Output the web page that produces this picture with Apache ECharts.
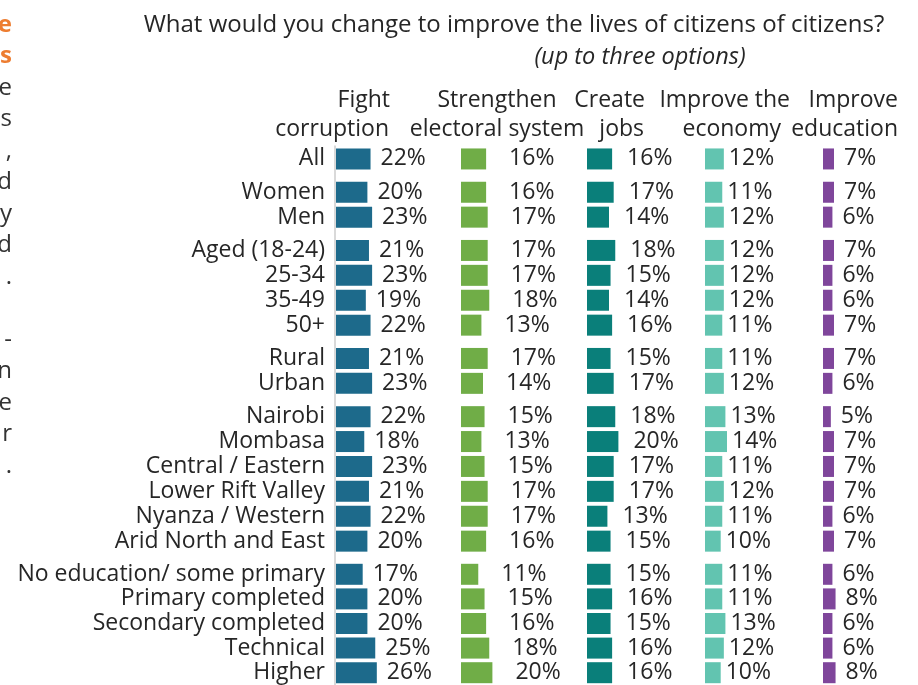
<!DOCTYPE html>
<html>
<head>
<meta charset="utf-8">
<script src="https://cdn.jsdelivr.net/npm/echarts@6/dist/echarts.min.js"></script>
<style>
  html, body { margin: 0; padding: 0; background: #ffffff; }
  #chart { width: 918px; height: 685px; }
</style>
</head>
<body>
<div id="chart"></div>
<script>
// Respondent groups, in display order
const rowGroups = [
  ['All'],
  ['Women', 'Men'],
  ['Aged (18-24)', '25-34', '35-49', '50+'],
  ['Rural', 'Urban'],
  ['Nairobi', 'Mombasa', 'Central / Eastern', 'Lower Rift Valley', 'Nyanza / Western', 'Arid North and East'],
  ['No education/ some primary', 'Primary completed', 'Secondary completed', 'Technical', 'Higher']
];

// Share of respondents (%) choosing each option, one value per row above
const fightCorruption     = [22, 20, 23, 21, 23, 19, 22, 21, 23, 22, 18, 23, 21, 22, 20, 17, 20, 20, 25, 26];
const strengthenElectoral = [16, 16, 17, 17, 17, 18, 13, 17, 14, 15, 13, 15, 17, 17, 16, 11, 15, 16, 18, 20];
const createJobs          = [16, 17, 14, 18, 15, 14, 16, 15, 17, 18, 20, 17, 17, 13, 15, 15, 16, 15, 16, 16];
const improveEconomy      = [12, 11, 12, 12, 12, 12, 11, 11, 12, 13, 14, 11, 12, 11, 10, 11, 11, 13, 12, 10];
const improveEducation    = [ 7,  7,  6,  7,  6,  6,  7,  7,  6,  5,  7,  7,  7,  6,  7,  6,  8,  6,  6,  8];

// Column headings (two lines each)
const headingLine1 = ['Fight', 'Strengthen', 'Create', 'Improve the', 'Improve'];
const headingLine2 = ['corruption', 'electoral system', 'jobs', 'economy', 'education'];

const titleText = 'What would you change to improve the lives of citizens of citizens?';
const subtitleText = '(up to three options)';

// Ends of the lines of the neighbouring text column
const marginChars = ['e', 's', 'e', 's', ',', 'd', 'y', 'd', '.', '', '-', 'n', 'e', 'r', '.'];

// ---- styling / layout ----
const FONT = '"Open Sans", "Noto Sans", sans-serif';
const TEXT = '#262626';
const LABEL_SIZE = 23;
const columnValues = [fightCorruption, strengthenElectoral, createJobs, improveEconomy, improveEducation];
const columnColors = ['#1d6a8b', '#70ad47', '#0a7f7a', '#62c4b0', '#7f469b'];
const columnLeft = [336, 461, 587, 705, 823];
const labelGap = [10, 23, 15, 5, 10];
const TOP = 146.5, ROW_H = 24.9, GROUP_GAP = 8.4, PX_PER_PCT = 1.57, AXIS_MAX = 40;

const grids = [], xAxes = [], yAxes = [], series = [];
let rowStart = 0;
rowGroups.forEach((labels, g) => {
  const top = TOP + rowStart * ROW_H + g * GROUP_GAP;
  const height = labels.length * ROW_H;
  columnValues.forEach((values, c) => {
    const idx = grids.length;
    grids.push({ left: columnLeft[c], top: top, width: AXIS_MAX * PX_PER_PCT, height: height, containLabel: false });
    xAxes.push({ gridIndex: idx, type: 'value', min: 0, max: AXIS_MAX, show: false });
    yAxes.push({
      gridIndex: idx, type: 'category', data: labels, inverse: true,
      axisLine: { show: false }, axisTick: { show: false }, splitLine: { show: false },
      axisLabel: { show: c === 0, interval: 0, margin: 11, fontSize: LABEL_SIZE, color: TEXT, fontFamily: FONT }
    });
    series.push({
      type: 'bar', xAxisIndex: idx, yAxisIndex: idx,
      data: values.slice(rowStart, rowStart + labels.length),
      barWidth: 21,
      itemStyle: { color: columnColors[c] },
      label: {
        show: true, position: 'right', distance: labelGap[c],
        formatter: '{c}%', fontSize: LABEL_SIZE, color: TEXT, fontFamily: FONT
      },
      animation: false
    });
  });
  rowStart += labels.length;
});

const totalRows = rowGroups.reduce((s, l) => s + l.length, 0);
const plotBottom = TOP + totalRows * ROW_H + (rowGroups.length - 1) * GROUP_GAP;

// Heading anchors: [x, align] for each line
const head1Pos = [[390, 'right'], [497, 'center'], [645, 'right'], [790, 'right'], [898, 'right']];
const head2Pos = [[389, 'right'], [497, 'center'], [644, 'right'], [781, 'right'], [898, 'right']];

const graphics = [
  { type: 'text', x: 514, y: 25,
    style: { text: titleText, align: 'center', verticalAlign: 'middle',
             font: '24px ' + FONT, fill: TEXT } },
  { type: 'text', x: 640, y: 57,
    style: { text: subtitleText, align: 'center', verticalAlign: 'middle',
             font: 'italic 23.5px ' + FONT, fill: TEXT } },
  { type: 'line', shape: { x1: 335, y1: TOP - 1, x2: 335, y2: plotBottom + 2 },
    style: { stroke: '#d9d9d9', lineWidth: 2 } }
];
headingLine1.forEach((t, i) => graphics.push({ type: 'text', x: head1Pos[i][0], y: 100,
  style: { text: t, align: head1Pos[i][1], verticalAlign: 'middle', font: LABEL_SIZE + 'px ' + FONT, fill: TEXT } }));
headingLine2.forEach((t, i) => graphics.push({ type: 'text', x: head2Pos[i][0], y: 129.5,
  style: { text: t, align: head2Pos[i][1], verticalAlign: 'middle', font: LABEL_SIZE + 'px ' + FONT, fill: TEXT } }));
marginChars.forEach((ch, i) => {
  if (!ch) return;
  const accent = i < 2;
  graphics.push({ type: 'text', x: 12, y: 25 + i * 31.5,
    style: { text: ch, align: 'right', verticalAlign: 'middle',
             font: (accent ? 'bold ' : '') + '24px ' + FONT, fill: accent ? '#ed7d31' : '#333333' } });
});

const chart = echarts.init(document.getElementById('chart'), null, { renderer: 'canvas' });
chart.setOption({
  animation: false,
  backgroundColor: '#ffffff',
  grid: grids, xAxis: xAxes, yAxis: yAxes, series: series,
  graphic: graphics
});
</script>
</body>
</html>
